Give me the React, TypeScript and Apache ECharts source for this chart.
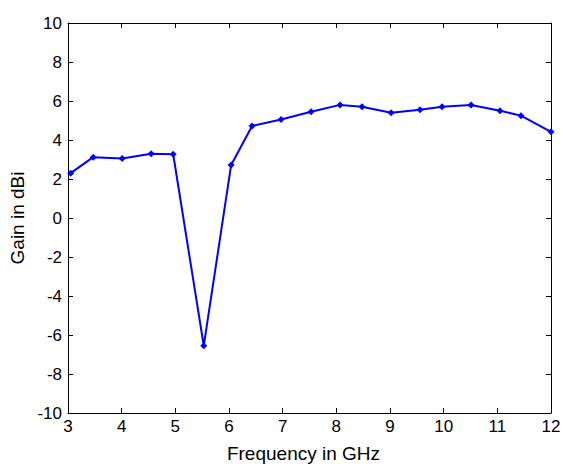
import React, { useEffect, useRef } from "react";
import * as echarts from "echarts";

const freqGHz = [3.05, 3.47, 4.01, 4.55, 4.96, 5.53, 6.04, 6.43, 6.97, 7.53, 8.07, 8.48, 9.02, 9.56, 9.97, 10.51, 11.05, 11.44, 12.0];
const gainDBi = [2.3, 3.12, 3.05, 3.3, 3.27, -6.55, 2.72, 4.72, 5.05, 5.45, 5.8, 5.7, 5.4, 5.55, 5.7, 5.8, 5.5, 5.25, 4.42];
const xLabel = "Frequency in GHz";
const yLabel = "Gain in dBi";

export default function App() {
  const ref = useRef<HTMLDivElement>(null);
  useEffect(() => {
    if (!ref.current) return;
    const chart = echarts.init(ref.current, null, { renderer: "svg" });
    const font = "Liberation Sans, Arial, sans-serif";
    const axisCommon = {
      axisLine: { show: true, onZero: false, lineStyle: { color: "#000", width: 1 } },
      axisTick: { show: true, inside: true, length: 5, lineStyle: { color: "#000" } },
      splitLine: { show: false },
    };
    chart.setOption({
      animation: false,
      backgroundColor: "#fff",
      grid: { left: 68, right: 12, top: 23, bottom: 51, containLabel: false, outerBoundsMode: "none" },
      xAxis: [
        {
          type: "value", min: 3, max: 12, interval: 1, position: "bottom",
          ...axisCommon,
          axisLabel: { color: "#000", fontSize: 17, fontFamily: font, margin: 5 },
          name: xLabel, nameLocation: "middle", nameGap: 31,
          nameTextStyle: { color: "#000", fontSize: 19, fontFamily: font, padding: [0, 12, 0, 0] },
        },
        {
          type: "value", min: 3, max: 12, interval: 1, position: "top",
          ...axisCommon, axisLabel: { show: false },
        },
      ],
      yAxis: [
        {
          type: "value", min: -10, max: 10, interval: 2, position: "left",
          ...axisCommon,
          axisLabel: { color: "#000", fontSize: 17, fontFamily: font, margin: 6 },
          name: yLabel, nameLocation: "middle", nameGap: 36,
          nameTextStyle: { color: "#000", fontSize: 19, fontFamily: font },
        },
        {
          type: "value", min: -10, max: 10, interval: 2, position: "right",
          ...axisCommon, axisLabel: { show: false },
        },
      ],
      series: [
        {
          type: "line",
          data: freqGHz.map((f, i) => [f, gainDBi[i]]),
          symbol: "diamond",
          symbolSize: 7,
          itemStyle: { color: "#0000ff" },
          lineStyle: { color: "#0000ff", width: 2 },
        },
      ],
    });
    return () => chart.dispose();
  }, []);
  return <div ref={ref} style={{ position: "absolute", left: 0, top: 0, width: 563, height: 464 }} />;
}
